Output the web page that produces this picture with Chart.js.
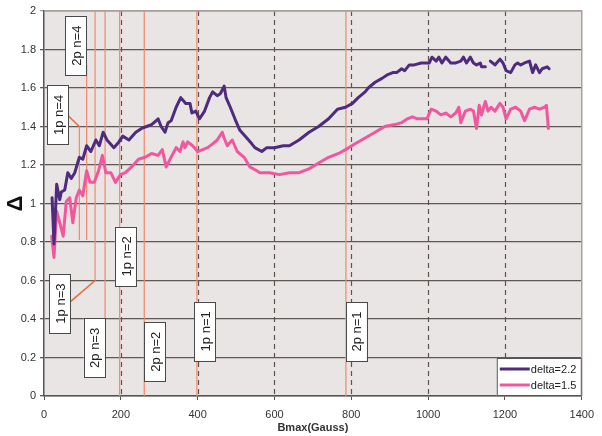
<!DOCTYPE html>
<html>
<head>
<meta charset="utf-8">
<script src="https://cdn.jsdelivr.net/npm/chart.js@4"></script>
<style>
  html, body { margin: 0; padding: 0; background: #fff; }
</style>
</head>
<body>
<canvas id="chart" width="602" height="436"></canvas>
<script>
// delta = 2.2 (purple)
const B22 = [21, 26, 33, 41, 45, 54, 62, 71, 80, 92, 101, 111, 122, 135, 144, 154, 164, 182, 195, 205,
  221, 239, 254, 267, 280, 292, 297, 305, 315, 323, 331, 344, 356, 369, 380, 385, 395, 405, 418, 431,
  439, 451, 459, 469, 474, 485, 497, 510, 528, 541, 549, 567, 580, 600, 623, 639, 664, 690, 715, 741,
  764, 785, 803, 818, 836, 844, 862, 880, 895, 908, 918, 931, 939, 951, 964, 982, 995, 1003, 1010, 1021,
  1028, 1036, 1046, 1059, 1072, 1085, 1092, 1100, 1110, 1118, 1126, 1136, 1139, 1149, 1155, 1162, 1174, 1187, 1195, 1203,
  1215, 1226, 1233, 1241, 1251, 1264, 1272, 1280, 1290, 1297, 1310, 1315];
const D22 = [1.03, 0.79, 1.10, 1.02, 1.06, 1.07, 1.16, 1.13, 1.16, 1.24, 1.23, 1.30, 1.27, 1.33, 1.30, 1.37, 1.33, 1.29, 1.32, 1.35,
  1.33, 1.37, 1.39, 1.40, 1.41, 1.43, 1.44, 1.40, 1.37, 1.42, 1.43, 1.50, 1.55, 1.52, 1.52, 1.47, 1.48, 1.44, 1.48, 1.55,
  1.58, 1.56, 1.57, 1.61, 1.55, 1.50, 1.44, 1.38, 1.34, 1.31, 1.29, 1.27, 1.29, 1.29, 1.30, 1.30, 1.33, 1.37, 1.40, 1.44,
  1.49, 1.50, 1.52, 1.55, 1.58, 1.60, 1.63, 1.65, 1.67, 1.68, 1.68, 1.70, 1.69, 1.72, 1.72, 1.73, 1.73, 1.73, 1.76, 1.74,
  1.76, 1.73, 1.76, 1.73, 1.73, 1.74, 1.76, 1.73, 1.76, 1.73, 1.72, 1.73, 1.71, 1.71, null, 1.74, 1.72, 1.75, 1.73, 1.69,
  1.68, 1.72, 1.73, 1.72, 1.73, 1.74, 1.68, 1.72, 1.68, 1.70, 1.71, 1.70];

// delta = 1.5 (pink)
const B15 = [20, 26, 33, 41, 50, 58, 67, 75, 84, 92, 101, 111, 120, 131, 142, 152, 161, 174, 186, 199,
  212, 228, 246, 263, 280, 297, 308, 318, 331, 344, 354, 362, 367, 374, 387, 400, 413, 426, 439, 451,
  464, 469, 477, 490, 503, 521, 536, 554, 562, 587, 613, 639, 664, 690, 715, 741, 767, 785, 810, 836,
  862, 887, 913, 931, 946, 959, 972, 985, 997, 1008, 1021, 1033, 1046, 1059, 1072, 1080, 1085, 1097, 1110, 1118,
  1126, 1133, 1139, 1149, 1156, 1164, 1174, 1187, 1195, 1203, 1215, 1228, 1241, 1251, 1264, 1277, 1290, 1303, 1308, 1313];
const D15 = [0.83, 0.72, 0.96, 0.90, 0.83, 1.01, 1.03, 0.90, 1.03, 1.07, 1.04, 1.17, 1.11, 1.11, 1.17, 1.25, 1.16, 1.16, 1.11, 1.15,
  1.16, 1.19, 1.23, 1.24, 1.26, 1.25, 1.28, 1.19, 1.24, 1.29, 1.27, 1.32, 1.29, 1.32, 1.30, 1.27, 1.28, 1.29, 1.31, 1.33,
  1.37, 1.34, 1.30, 1.33, 1.27, 1.24, 1.19, 1.17, 1.16, 1.16, 1.15, 1.16, 1.16, 1.18, 1.21, 1.24, 1.26, 1.28, 1.31, 1.34,
  1.37, 1.40, 1.41, 1.42, 1.44, 1.45, 1.44, 1.44, 1.44, 1.49, 1.48, 1.46, 1.47, 1.45, 1.47, 1.50, 1.42, 1.48, 1.49, 1.48,
  1.39, 1.51, 1.46, 1.53, 1.48, 1.50, 1.48, 1.52, 1.50, 1.44, 1.49, 1.50, 1.48, 1.43, 1.49, 1.50, 1.49, 1.50, 1.51, 1.39];

// resonance markers (orange lines), in data units
const markB = [92, 111, 133, 159, 197, 261, 398, 786];
const markTop = [1.40, 1.72, 2, 2, 2, 2, 2, 2];
const markBottom = [0.81, 0.81, 0.60, 0.405, 0, 0, 0, 0];

// boxed labels: text, centre (B, delta)
const labelText = ["2p n=4", "1p n=4", "1p n=3", "2p n=3", "1p n=2", "2p n=2", "1p n=1", "2p n=1"];
const labelB = [82, 36, 41, 131, 212, 288, 419, 813];
const labelD = [1.82, 1.46, 0.48, 0.25, 0.725, 0.23, 0.336, 0.335];
// leader lines from label to marker: [fromB, fromD, toB, toD]
const leaders = [[61, 1.46, 92, 1.40], [69, 0.49, 133, 0.60]];

const seriesNames = ["delta=2.2", "delta=1.5"];
const seriesColors = ["#4e2b7c", "#f0579d"];

const toPoints = (xs, ys) => xs.map((x, i) => ({ x: x, y: ys[i] }));

const FONT = "'Liberation Sans', Arial, sans-serif";

const decor = {
  id: "decor",
  beforeDraw(chart) {
    const { ctx, chartArea: a } = chart;
    ctx.save();
    ctx.fillStyle = "#e9e5e4";
    ctx.fillRect(a.left, a.top, a.right - a.left, a.bottom - a.top);
    ctx.restore();
  },
  beforeDatasetsDraw(chart) {
    const { ctx, chartArea: a, scales: { x, y } } = chart;
    ctx.save();
    // dashed verticals
    ctx.strokeStyle = "#5b5552";
    ctx.lineWidth = 1.2;
    ctx.setLineDash([5, 4]);
    for (let v = 200; v < 1400; v += 200) {
      const px = Math.round(x.getPixelForValue(v)) + 0.5;
      ctx.beginPath();
      ctx.moveTo(px, a.top);
      ctx.lineTo(px, a.bottom);
      ctx.stroke();
    }
    ctx.setLineDash([]);
    // top / right border
    ctx.strokeStyle = "#a9a19c";
    ctx.lineWidth = 1.5;
    ctx.beginPath();
    ctx.moveTo(a.left, a.top);
    ctx.lineTo(a.right, a.top);
    ctx.lineTo(a.right, a.bottom);
    ctx.stroke();
    // orange markers
    ctx.strokeStyle = "#f2886a";
    ctx.lineWidth = 1.2;
    markB.forEach((b, i) => {
      const px = x.getPixelForValue(b);
      ctx.beginPath();
      ctx.moveTo(px, y.getPixelForValue(markTop[i]));
      ctx.lineTo(px, y.getPixelForValue(markBottom[i]));
      ctx.stroke();
    });
    ctx.strokeStyle = "#f06a3a";
    ctx.lineWidth = 1.6;
    leaders.forEach(l => {
      ctx.beginPath();
      ctx.moveTo(x.getPixelForValue(l[0]), y.getPixelForValue(l[1]));
      ctx.lineTo(x.getPixelForValue(l[2]), y.getPixelForValue(l[3]));
      ctx.stroke();
    });
    ctx.restore();
  },
  afterDatasetsDraw(chart) {
    const { ctx, scales: { x, y } } = chart;
    ctx.save();
    ctx.font = "13px " + FONT;
    ctx.textAlign = "center";
    ctx.textBaseline = "middle";
    labelText.forEach((t, i) => {
      const cx = x.getPixelForValue(labelB[i]);
      const cy = y.getPixelForValue(labelD[i]);
      const w = 21, h = 59;
      ctx.fillStyle = "#fff";
      ctx.fillRect(cx - w / 2, cy - h / 2, w, h);
      ctx.strokeStyle = "#4a4a4a";
      ctx.lineWidth = 1;
      ctx.strokeRect(Math.round(cx - w / 2) + 0.5, Math.round(cy - h / 2) + 0.5, w, h);
      ctx.save();
      ctx.translate(cx + 0.5, cy);
      ctx.rotate(-Math.PI / 2);
      ctx.fillStyle = "#222";
      ctx.fillText(t, 0, 1);
      ctx.restore();
    });
    ctx.restore();
  },
  afterDraw(chart) {
    const { ctx, chartArea: a } = chart;
    ctx.save();
    const bx = a.right - 85, by = a.bottom - 38;
    ctx.fillStyle = "#fff";
    ctx.fillRect(bx, by, 85, 38);
    ctx.strokeStyle = "#555";
    ctx.lineWidth = 1;
    ctx.strokeRect(bx + 0.5, by + 0.5, 84, 37);
    ctx.font = "11px " + FONT;
    ctx.textBaseline = "middle";
    seriesNames.forEach((n, i) => {
      const ly = by + 11 + i * 16;
      ctx.strokeStyle = seriesColors[i];
      ctx.lineWidth = 3;
      ctx.beginPath();
      ctx.moveTo(bx + 3, ly);
      ctx.lineTo(bx + 33, ly);
      ctx.stroke();
      ctx.fillStyle = "#222";
      ctx.fillText(n, bx + 34, ly + 1);
    });
    ctx.restore();
  }
};

new Chart(document.getElementById("chart"), {
  type: "line",
  data: {
    datasets: [
      {
        label: seriesNames[0],
        data: toPoints(B22, D22),
        borderColor: seriesColors[0],
        backgroundColor: seriesColors[0],
        borderWidth: 3,
        borderJoinStyle: "round",
        borderCapStyle: "round",
        pointRadius: 0,
        spanGaps: false,
        fill: false,
      },
      {
        label: seriesNames[1],
        data: toPoints(B15, D15),
        borderColor: seriesColors[1],
        backgroundColor: seriesColors[1],
        borderWidth: 3,
        borderJoinStyle: "round",
        borderCapStyle: "round",
        pointRadius: 0,
        fill: false,
      },
    ],
  },
  options: {
    responsive: false,
    animation: false,
    layout: { padding: { top: 11, right: 12, left: 0, bottom: 0 } },
    plugins: {
      legend: { display: false },
      tooltip: { enabled: false },
    },
    scales: {
      x: {
        type: "linear",
        min: 0,
        max: 1400,
        afterFit: (s) => { s.height = 40; },
        ticks: {
          stepSize: 200,
          color: "#333",
          padding: 8,
          maxRotation: 0,
          font: { family: FONT, size: 11 },
          callback: (v) => String(v),
        },
        grid: { drawOnChartArea: false, tickLength: 4, color: "#555" },
        border: { color: "#555", width: 1.5 },
        title: {
          display: true,
          text: "Bmax(Gauss)",
          color: "#333",
          font: { family: FONT, size: 11, weight: "bold" },
          padding: { top: 0, bottom: 1 },
        },
      },
      y: {
        min: 0,
        max: 2,
        afterFit: (s) => { s.width = 44; },
        ticks: {
          stepSize: 0.2,
          color: "#333",
          padding: 4,
          font: { family: FONT, size: 11 },
          callback: (v) => String(parseFloat(v.toFixed(1))),
        },
        grid: {
          tickLength: 4,
          lineWidth: 1.3,
          color: (c) => (c.tick && c.tick.value === 2 ? "#a9a19c" : "#5f5955"),
        },
        border: { color: "#555", width: 1.5 },
        title: {
          display: true,
          text: "Δ",
          color: "#111",
          font: { family: FONT, size: 22, weight: "bold" },
          padding: { top: 3, bottom: 0 },
        },
      },
    },
  },
  plugins: [decor],
});
</script>
</body>
</html>
